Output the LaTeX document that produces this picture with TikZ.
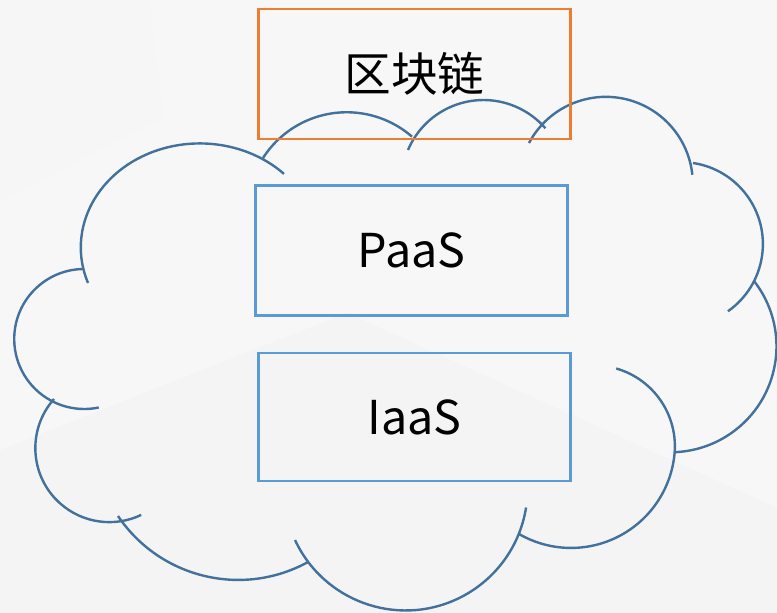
\documentclass[tikz,border=0pt]{standalone}
\usepackage{fontspec}
\usepackage{xcolor}
\usepackage{tikz}
\newfontfamily\cjk{Noto Sans CJK SC}
\definecolor{cloudline}{HTML}{41719C}
\definecolor{boxblue}{HTML}{5B9BD5}
\definecolor{boxorange}{HTML}{ED7D31}

\begin{document}
\begin{tikzpicture}[x=0.75pt,y=-0.75pt,
  cloud/.style={draw=cloudline,line width=1.8pt},
  layerbox/.style={draw=#1,line width=1.6pt,minimum width=234pt,
    minimum height=97.5pt,inner sep=0pt,font=\cjk\fontsize{35}{42}\selectfont}]
  % background
  \fill[gray!6] (0,0) rectangle (777,613);
  \fill[gray!7.5] (0,0) -- (149,0) -- (164,117) -- (0,200) -- cycle;
  \fill[gray!9] (0,450) -- (347,313) -- (777,508) -- (777,613) -- (0,613) -- cycle;
  \useasboundingbox (0,0) rectangle (777,613);

  % cloud, one arc per lobe
  \coordinate (j1) at (83,269);
  \coordinate (ul) at (88,283);
  \coordinate (j11) at (263,158);
  \coordinate (tm) at (408,150);
  \coordinate (tr) at (529,143);
  \coordinate (j8) at (693,163);
  \coordinate (j7) at (754,281);
  \coordinate (j5) at (519,534);
  \coordinate (bm) at (295,540);
  \coordinate (j3) at (118,516);
  \coordinate (j2) at (54,399);
  \draw[cloud] (j1) arc[start angle=269,end angle=78,radius=70];
  \draw[cloud] (ul) arc[start angle=160,end angle=315,x radius=119,y radius=104];
  \draw[cloud] (j11) arc[start angle=212.7,end angle=311,radius=99.5];
  \draw[cloud] (tm) arc[start angle=203,end angle=319,radius=82];
  \draw[cloud] (tr) arc[start angle=208,end angle=354,radius=87];
  \draw[cloud] (j8) arc[start angle=278.5,end angle=415,radius=82];
  \draw[cloud] (j7) arc[start angle=322,end angle=447,radius=106];
  \draw[cloud] (j5) arc[start angle=120,end angle=6,radius=104] %
    arc[start angle=6,end angle=-74,radius=81];
  \draw[cloud] (bm) arc[start angle=155,end angle=9,radius=122];
  \draw[cloud] (j3) arc[start angle=146,end angle=61,radius=145];
  \draw[cloud] (j2) arc[start angle=221.6,end angle=64.5,radius=74];

  % layers
  \node[layerbox=boxorange] (chain) at (414.5,74) {区块链};
  \node[layerbox=boxblue] (paas) at (411.5,250.5) {PaaS};
  \node[layerbox=boxblue,minimum height=96pt] (iaas) at (414.5,417) {IaaS};
\end{tikzpicture}
\end{document}
